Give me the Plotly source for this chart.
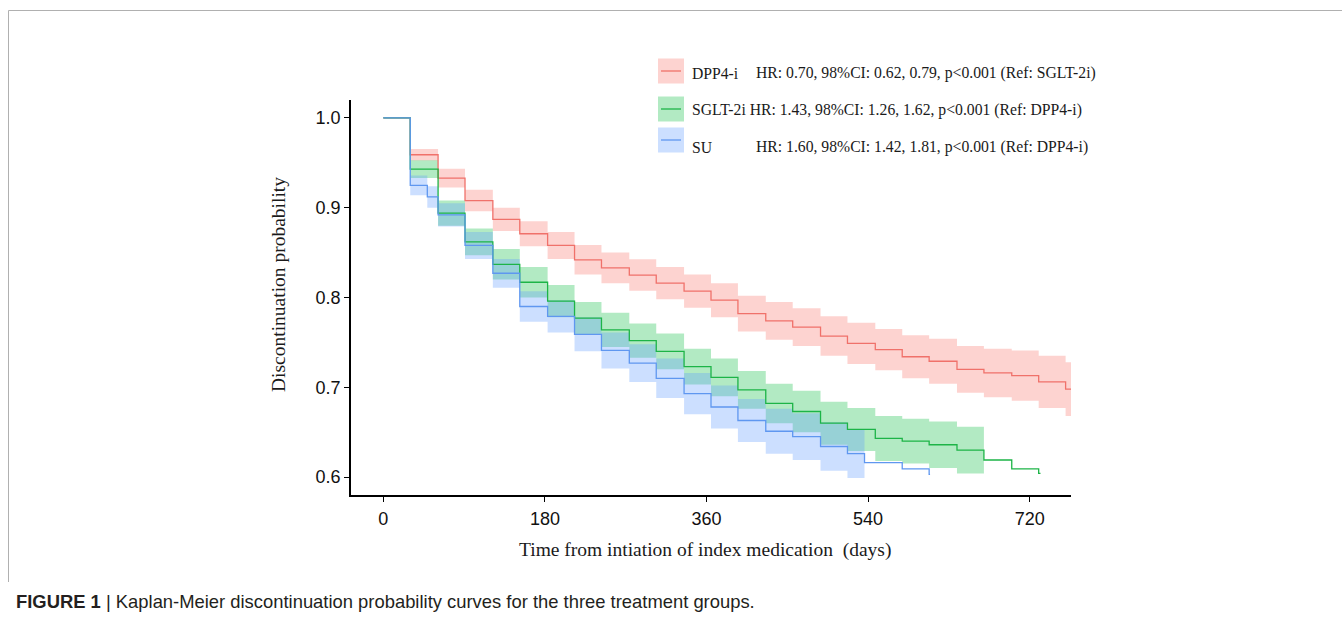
import plotly.graph_objects as go

# ---------------- data ----------------
# DPP4-i
dpp4_time = [0, 30, 61, 91, 122, 152, 183, 213, 243, 274, 304, 335, 365, 395, 426, 456, 487, 517, 548, 578, 608, 639, 669, 700, 730, 760]
dpp4_surv = [1.0, 0.959, 0.933, 0.908, 0.887, 0.871, 0.858, 0.842, 0.833, 0.825, 0.816, 0.807, 0.797, 0.782, 0.774, 0.767, 0.757, 0.749, 0.742, 0.734, 0.729, 0.720, 0.716, 0.713, 0.706, 0.698]
dpp4_upper = [1.0, 0.9655, 0.9435, 0.920, 0.900, 0.885, 0.873, 0.8585, 0.850, 0.8425, 0.834, 0.8255, 0.816, 0.802, 0.795, 0.788, 0.779, 0.772, 0.765, 0.758, 0.754, 0.746, 0.743, 0.741, 0.735, 0.728]
dpp4_lower = [1.0, 0.9525, 0.9225, 0.896, 0.874, 0.857, 0.843, 0.8255, 0.816, 0.8075, 0.798, 0.7885, 0.778, 0.762, 0.753, 0.746, 0.735, 0.726, 0.719, 0.710, 0.704, 0.694, 0.689, 0.685, 0.677, 0.668]
dpp4_end = 766
dpp4_ci_end = 766

# SGLT-2i
sglt_time = [0, 30, 61, 91, 122, 152, 183, 213, 243, 274, 304, 335, 365, 395, 426, 456, 487, 517, 548, 578, 608, 639, 669, 700, 730]
sglt_surv = [1.0, 0.943, 0.894, 0.862, 0.837, 0.817, 0.796, 0.777, 0.764, 0.752, 0.740, 0.723, 0.711, 0.697, 0.682, 0.673, 0.660, 0.653, 0.643, 0.640, 0.636, 0.630, 0.619, 0.609, 0.604]
sglt_upper = [1.0, 0.953, 0.908, 0.877, 0.854, 0.834, 0.814, 0.795, 0.783, 0.771, 0.760, 0.743, 0.732, 0.718, 0.704, 0.696, 0.684, 0.677, 0.668, 0.665, 0.662, 0.656]
sglt_lower = [1.0, 0.933, 0.880, 0.847, 0.820, 0.800, 0.778, 0.759, 0.745, 0.733, 0.720, 0.703, 0.690, 0.676, 0.660, 0.650, 0.636, 0.629, 0.618, 0.615, 0.610, 0.604]
sglt_end = 732
sglt_ci_end = 669

# SU
su_time = [0, 30, 49, 61, 91, 122, 152, 183, 213, 243, 274, 304, 335, 365, 395, 426, 456, 487, 517, 536, 578, 608]
su_surv = [1.0, 0.925, 0.912, 0.892, 0.858, 0.827, 0.790, 0.779, 0.759, 0.741, 0.727, 0.710, 0.693, 0.678, 0.663, 0.651, 0.645, 0.634, 0.626, 0.616, 0.609, 0.603]
su_upper = [1.0, 0.936, 0.924, 0.905, 0.873, 0.843, 0.807, 0.797, 0.778, 0.761, 0.748, 0.732, 0.716, 0.702, 0.687, 0.676, 0.671, 0.661, 0.653]
su_lower = [1.0, 0.914, 0.900, 0.879, 0.843, 0.811, 0.773, 0.761, 0.740, 0.721, 0.706, 0.688, 0.670, 0.654, 0.639, 0.626, 0.619, 0.607, 0.599]
su_end = 609
su_ci_end = 536

group_names = ["DPP4-i", "SGLT-2i", "SU"]
hr_texts = [
    "HR: 0.70, 98%CI: 0.62, 0.79, p&lt;0.001 (Ref: SGLT-2i)",
    "HR: 1.43, 98%CI: 1.26, 1.62, p&lt;0.001 (Ref: DPP4-i)",
    "HR: 1.60, 98%CI: 1.42, 1.81, p&lt;0.001 (Ref: DPP4-i)",
]
x_ticks = [0, 180, 360, 540, 720]
y_ticks = [0.6, 0.7, 0.8, 0.9, 1.0]

# ---------------- styling ----------------
W, H = 1342, 629
ML, MR, MT, MB = 351, 271, 100, 134
PW, PH = W - ML - MR, H - MT - MB

line_colors = ["#F0716A", "#1DB447", "#5F97F0"]
band_colors = ["rgba(248,118,109,0.32)", "rgba(0,186,56,0.30)", "rgba(97,156,255,0.32)"]
SERIF = "Liberation Serif, Times New Roman, serif"
SANS = "Liberation Sans, Arial, sans-serif"
LEG_SIZE = 15.7


def px(x):
    return (x - ML) / PW


def py(y):
    return (H - MB - y) / PH


fig = go.Figure()

series = [
    (dpp4_time, dpp4_surv, dpp4_upper, dpp4_lower, dpp4_end, dpp4_ci_end),
    (sglt_time, sglt_surv, sglt_upper, sglt_lower, sglt_end, sglt_ci_end),
    (su_time, su_surv, su_upper, su_lower, su_end, su_ci_end),
]

# confidence bands
for i, (t, s, up, lo, end, ci_end) in enumerate(series):
    tb = t[:len(up)] + [ci_end]
    fig.add_trace(go.Scatter(x=tb, y=lo + [lo[-1]], mode="lines", line=dict(width=0, shape="hv"),
                             hoverinfo="skip", showlegend=False))
    fig.add_trace(go.Scatter(x=tb, y=up + [up[-1]], mode="lines", line=dict(width=0, shape="hv"),
                             fill="tonexty", fillcolor=band_colors[i], hoverinfo="skip", showlegend=False))

# survival step lines
for i, (t, s, up, lo, end, ci_end) in enumerate(series):
    fig.add_trace(go.Scatter(x=t + [end], y=s + [s[-1]], mode="lines",
                             line=dict(color=line_colors[i], width=1.3, shape="hv"),
                             name=group_names[i], showlegend=False))

shapes = []
annotations = []

# custom legend (key box + line, group label, HR text)
key_y = [71, 109, 140]
text_y = [73, 110, 147]
for i in range(3):
    shapes.append(dict(type="rect", xref="paper", yref="paper",
                       x0=px(658), x1=px(684), y0=py(key_y[i] - 12.5), y1=py(key_y[i] + 12.5),
                       fillcolor=band_colors[i], line=dict(width=0), layer="above"))
    shapes.append(dict(type="line", xref="paper", yref="paper",
                       x0=px(661), x1=px(681), y0=py(key_y[i]), y1=py(key_y[i]),
                       line=dict(color=line_colors[i], width=1.3), layer="above"))
    if i == 1:
        annotations.append(dict(xref="paper", yref="paper", x=px(690), y=py(text_y[i]),
                                xanchor="left", yanchor="middle", showarrow=False,
                                text=group_names[i] + " " + hr_texts[i],
                                font=dict(family=SERIF, size=LEG_SIZE, color="#1a1a1a")))
    else:
        annotations.append(dict(xref="paper", yref="paper", x=px(690), y=py(text_y[i]),
                                xanchor="left", yanchor="middle", showarrow=False,
                                text=group_names[i], font=dict(family=SERIF, size=LEG_SIZE, color="#1a1a1a")))
        annotations.append(dict(xref="paper", yref="paper", x=px(754), y=py(text_y[i]),
                                xanchor="left", yanchor="middle", showarrow=False,
                                text=hr_texts[i], font=dict(family=SERIF, size=LEG_SIZE, color="#1a1a1a")))

# axis titles
annotations.append(dict(xref="paper", yref="paper", x=px(278), y=py(285), textangle=-90,
                        xanchor="center", yanchor="middle", showarrow=False,
                        text="Discontinuation probability",
                        font=dict(family=SERIF, size=19.5, color="#1a1a1a")))
annotations.append(dict(xref="paper", yref="paper", x=px(705), y=py(550),
                        xanchor="center", yanchor="middle", showarrow=False,
                        text="Time from intiation of index medication\u00a0 (days)",
                        font=dict(family=SERIF, size=19.5, color="#1a1a1a")))

# caption
annotations.append(dict(xref="paper", yref="paper", x=px(14), y=py(601),
                        xanchor="left", yanchor="middle", showarrow=False,
                        text="<b>FIGURE 1</b> | Kaplan-Meier discontinuation probability curves for the three treatment groups.",
                        font=dict(family=SANS, size=18.4, color="#231f20")))

# page frame lines
shapes.append(dict(type="line", xref="paper", yref="paper", x0=px(8.5), x1=px(1342), y0=py(10.5), y1=py(10.5),
                   line=dict(color="#b0b0b0", width=1)))
shapes.append(dict(type="line", xref="paper", yref="paper", x0=px(8.5), x1=px(8.5), y0=py(10.5), y1=py(582),
                   line=dict(color="#b0b0b0", width=1)))

fig.update_layout(
    width=W, height=H,
    margin=dict(l=ML, r=MR, t=MT, b=MB),
    paper_bgcolor="white", plot_bgcolor="white",
    showlegend=False,
    shapes=shapes, annotations=annotations,
    xaxis=dict(range=[-36, 766], tickvals=x_ticks, ticktext=[str(v) for v in x_ticks],
               showline=True, linecolor="black", linewidth=1.5, ticks="outside", ticklen=5,
               tickwidth=1.2, tickcolor="black", showgrid=False, zeroline=False,
               tickfont=dict(family=SANS, size=18, color="#111"), ticklabelstandoff=2),
    yaxis=dict(range=[0.58, 1.02], tickvals=y_ticks, ticktext=["%.1f" % v for v in y_ticks],
               showline=True, linecolor="black", linewidth=1.5, ticks="outside", ticklen=5,
               tickwidth=1.2, tickcolor="black", showgrid=False, zeroline=False,
               tickfont=dict(family=SANS, size=18, color="#111")),
)

fig.write_html("out.html", config={"displayModeBar": False},
               post_script="document.body.style.margin='0px';document.body.style.overflow='hidden';")
